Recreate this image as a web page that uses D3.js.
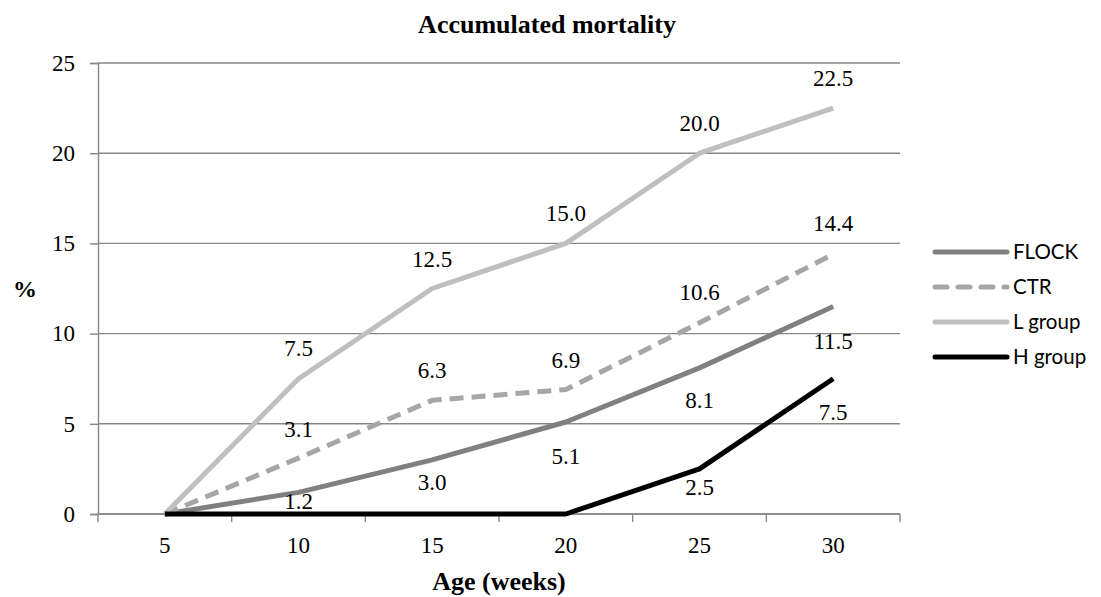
<!DOCTYPE html>
<html>
<head>
<meta charset="utf-8">
<script src="https://cdn.jsdelivr.net/npm/d3@7"></script>
<style>
  body { margin: 0; background: #fff; }
</style>
</head>
<body>
<script>
// data
const ages = ["5", "10", "15", "20", "25", "30"];
const flock = [0, 1.2, 3.0, 5.1, 8.1, 11.5];
const ctr = [0, 3.1, 6.3, 6.9, 10.6, 14.4];
const lGroup = [0, 7.5, 12.5, 15.0, 20.0, 22.5];
const hGroup = [0, 0, 0, 0, 2.5, 7.5];
const yTicks = [0, 5, 10, 15, 20, 25];

const serif = "'Liberation Serif', 'Times New Roman', serif";
const sans = "Lato, 'Open Sans', sans-serif";

// label nudges (px from the point), as placed in the original
const series = [
    {name: "FLOCK", values: flock, color: "#808080", dash: null, labelDy: [0, 9, 22, 34, 32, 34]},
    {name: "CTR", values: ctr, color: "#a6a6a6", dash: "14,8", labelDy: [0, -29, -30, -30, -31, -31]},
    {name: "L group", values: lGroup, color: "#bfbfbf", dash: null, labelDy: [0, -31, -30, -30, -30, -30]},
    {name: "H group", values: hGroup, color: "#000000", dash: null, labelDy: [0, 0, 0, 0, 18, 33]}
];

const W = 1101, H = 597;
const margin = {left: 98, right: 201, top: 63, bottom: 83};
const width = W - margin.left - margin.right;
const height = H - margin.top - margin.bottom;

const svg = d3.select("body")
    .append("svg")
        .attr("width", W)
        .attr("height", H);

const g = svg.append("g")
    .attr("transform", "translate(" + margin.left + "," + margin.top + ")");

const x = d3.scaleBand()
    .domain(ages)
    .range([0, width]);

const y = d3.scaleLinear()
    .domain([0, 25])
    .range([height, 0]);

const gridColor = "#878787";

// gridlines
g.selectAll(".grid")
    .data(yTicks)
    .enter().append("line")
        .attr("x1", 0)
        .attr("x2", width)
        .attr("y1", d => y(d))
        .attr("y2", d => y(d))
        .attr("stroke", gridColor)
        .attr("stroke-width", 1.4);

// y axis
const leftAxis = d3.axisLeft(y)
    .tickValues(yTicks)
    .tickSize(8)
    .tickPadding(15);

const ya = g.append("g")
    .attr("class", "left axis")
    .call(leftAxis);
ya.select(".domain").attr("stroke", gridColor).attr("stroke-width", 1.4);
ya.selectAll(".tick line").attr("stroke", gridColor).attr("stroke-width", 1.4);
ya.selectAll("text")
    .style("font-family", serif)
    .style("font-size", "23px")
    .attr("fill", "#000");

// x axis: ticks between categories
const xa = g.append("g")
    .attr("class", "bottom axis")
    .attr("transform", "translate(0," + height + ")");

xa.append("line")
    .attr("x1", 0).attr("x2", width)
    .attr("y1", 0).attr("y2", 0)
    .attr("stroke", gridColor)
    .attr("stroke-width", 1.4);

const boundaries = ages.map(d => x(d)).concat([width]);
xa.selectAll(".xtick")
    .data(boundaries)
    .enter().append("line")
        .attr("x1", d => d)
        .attr("x2", d => d)
        .attr("y1", 0)
        .attr("y2", 8)
        .attr("stroke", gridColor)
        .attr("stroke-width", 1.4);

xa.selectAll(".xlabel")
    .data(ages)
    .enter().append("text")
        .attr("x", d => x(d) + x.bandwidth() / 2)
        .attr("y", 39)
        .attr("text-anchor", "middle")
        .style("font-family", serif)
        .style("font-size", "23px")
        .text(d => d);

// lines
const line = d3.line()
    .x((d, i) => x(ages[i]) + x.bandwidth() / 2)
    .y(d => y(d));

g.selectAll(".series")
    .data(series)
    .enter().append("path")
        .attr("d", d => line(d.values))
        .attr("fill", "none")
        .attr("stroke", d => d.color)
        .attr("stroke-width", 5)
        .attr("stroke-dasharray", d => d.dash)
        .attr("stroke-linejoin", "round");

// data labels (non-zero only)
series.forEach(s => {
    g.selectAll(null)
        .data(s.values.map((v, i) => ({v: v, i: i})).filter(d => d.v > 0))
        .enter().append("text")
            .attr("x", d => x(ages[d.i]) + x.bandwidth() / 2)
            .attr("y", d => y(d.v) + s.labelDy[d.i])
            .attr("dy", "0.35em")
            .attr("text-anchor", "middle")
            .style("font-family", serif)
            .style("font-size", "23px")
            .text(d => d.v.toFixed(1));
});

// titles
svg.append("text")
    .attr("x", 547)
    .attr("y", 33)
    .attr("text-anchor", "middle")
    .style("font-family", serif)
    .style("font-weight", "bold")
    .style("font-size", "26px")
    .text("Accumulated mortality");

svg.append("text")
    .attr("x", margin.left + width / 2)
    .attr("y", 590)
    .attr("text-anchor", "middle")
    .style("font-family", serif)
    .style("font-weight", "bold")
    .style("font-size", "26px")
    .text("Age (weeks)");

svg.append("text")
    .attr("x", 25)
    .attr("y", 297)
    .attr("text-anchor", "middle")
    .style("font-family", serif)
    .style("font-weight", "bold")
    .style("font-size", "24px")
    .text("%");

// legend
const legend = svg.append("g")
    .attr("transform", "translate(935,252)");

const li = legend.selectAll(".item")
    .data(series)
    .enter().append("g")
        .attr("transform", (d, i) => "translate(0," + i * 35 + ")");

li.append("line")
    .attr("x1", 0).attr("x2", 72)
    .attr("y1", 0).attr("y2", 0)
    .attr("stroke", d => d.color)
    .attr("stroke-width", 5)
    .attr("stroke-linecap", "round")
    .attr("stroke-dasharray", d => d.dash ? "12,11" : null);

li.append("text")
    .attr("x", 78)
    .attr("y", 0)
    .attr("dy", "0.35em")
    .style("font-family", sans)
    .style("font-size", "20.5px")
    .text(d => d.name);
</script>
</body>
</html>
